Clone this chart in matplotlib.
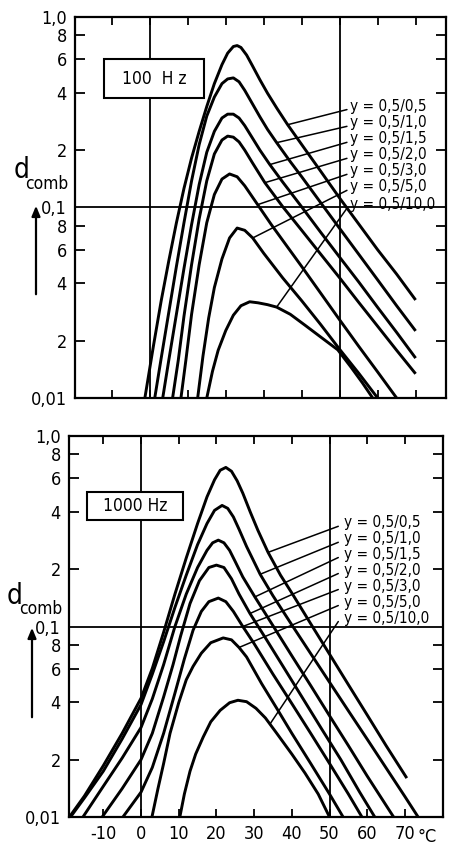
import numpy as np
import matplotlib
matplotlib.use("Agg")
import matplotlib.pyplot as plt
from matplotlib.patches import Rectangle, FancyArrowPatch

plt.rcParams['font.family'] = ['DejaVu Sans']
plt.rcParams['font.stretch'] = 'condensed'
plt.rcParams['axes.unicode_minus'] = False

labels = ["y = 0,5/0,5", "y = 0,5/1,0", "y = 0,5/1,5", "y = 0,5/2,0",
          "y = 0,5/3,0", "y = 0,5/5,0", "y = 0,5/10,0"]
x_ticks = [-10, 0, 10, 20, 30, 40, 50, 60, 70]
y_major = [0.01, 0.1, 1.0]
y_major_labels = ["0,01", "0,1", "1,0"]
y_minor = [0.02, 0.04, 0.06, 0.08, 0.2, 0.4, 0.6, 0.8]
y_minor_labels = ["2", "4", "6", "8", "2", "4", "6", "8"]

# ---- 100 Hz panel (temperature in degC, d_comb) ----
t100_1 = [-1.3, 1, 3, 5, 7, 9, 11, 13, 15, 17, 19, 20.5, 22, 23, 24, 25.5, 27, 29, 31, 33.5, 36.3, 40, 45, 50, 55, 60, 65, 70]
d100_1 = [.01, .019, .0324, .0525, .083, .126, .182, .251, .339, .447, .562, .646, .70, .708, .692, .631, .556, .468, .398, .331, .272, .214, .155, .112, .082, .060, .0447, .0327]
t100_2 = [1.3, 3, 5, 7, 9, 11, 13, 15, 17, 19, 20.5, 22, 23.5, 25, 27, 29, 31, 33.4, 37, 40, 45, 50, 55, 60, 65, 70]
d100_2 = [.01, .0162, .0282, .049, .0832, .138, .214, .302, .38, .447, .473, .479, .457, .412, .351, .299, .257, .219, .174, .145, .106, .0776, .0569, .0417, .0305, .0225]
t100_3 = [3.4, 5, 7, 9, 11, 13, 15, 17, 19, 20.5, 22, 23.5, 25, 27, 29, 31.6, 35, 40, 45, 50, 55, 60, 65, 70]
d100_3 = [.01, .0158, .0275, .0479, .0813, .132, .195, .251, .295, .309, .309, .295, .269, .232, .20, .168, .136, .1007, .0741, .0548, .0407, .0299, .0221, .0162]
t100_4 = [6, 7.5, 9, 11, 13, 15, 17, 19, 20.5, 22, 23.5, 25, 27, 30.3, 35, 40, 45, 50, 55, 60, 65, 70]
d100_4 = [.01, .0158, .0269, .0501, .0871, .138, .191, .226, .237, .234, .221, .20, .172, .135, .101, .0759, .0569, .0427, .0318, .0238, .0178, .0134]
t100_5 = [8.2, 9.5, 11, 13, 15, 17, 19, 21, 23, 25, 28.4, 32, 36, 40, 45, 50, 55, 60, 65]
d100_5 = [.01, .0158, .0275, .0501, .0832, .117, .141, .150, .145, .130, .1035, .0813, .0631, .049, .0355, .0257, .0187, .0137, .01]
t100_6 = [12.6, 14, 15.5, 17, 19, 21, 23, 25, 27.1, 30, 35, 40, 45, 50, 55, 60]
d100_6 = [.01, .0166, .0263, .038, .0537, .0692, .078, .0759, .0692, .0575, .0427, .0324, .0243, .018, .0135, .01]
t100_7 = [15, 16.5, 18, 20, 22, 24, 26.3, 28.5, 31, 33.4, 37, 41, 45, 49.5, 53, 56, 58.7]
d100_7 = [.01, .0138, .0178, .0226, .0272, .0305, .032, .0316, .0309, .030, .0275, .024, .0209, .0179, .0145, .012, .01]

# ---- 1000 Hz panel ----
t1000_1 = [-19, -15, -10, -5, 0, 3, 6, 9, 12, 15, 17.5, 19.5, 21, 22.5, 24, 25.5, 27, 29, 31, 33.7, 37, 40, 45, 50, 55, 60, 65, 70.5]
d1000_1 = [.01, .0129, .0186, .0275, .042, .0603, .0933, .148, .229, .347, .479, .589, .661, .684, .653, .582, .501, .398, .32, .245, .186, .15, .1035, .0716, .0495, .0343, .0237, .016]
t1000_2 = [-18.7, -15, -10, -5, 0, 3, 6, 9, 12, 15, 17.5, 19.5, 21.5, 23, 24.5, 26, 28, 31.6, 35, 40, 45, 50, 55, 60, 65, 70, 73.5]
d1000_2 = [.01, .0126, .0174, .0257, .0389, .0562, .0832, .126, .186, .269, .347, .407, .432, .417, .376, .324, .263, .188, .145, .102, .0721, .051, .0361, .0256, .0181, .0128, .01]
t1000_3 = [-15.4, -10, -5, 0, 3, 6, 9, 12, 15, 17.5, 19, 20.5, 22, 23.5, 25, 27, 30.2, 35, 40, 45, 50, 55, 60, 67]
d1000_3 = [.01, .0145, .0204, .0295, .0417, .0631, .1, .148, .204, .251, .275, .284, .275, .251, .219, .182, .143, .101, .0702, .049, .034, .0237, .0164, .01]
t1000_4 = [-10.3, -5, 0, 3, 6, 8.5, 10.5, 13, 15.5, 18, 20, 22, 24, 26, 28.9, 33, 38, 43, 48, 53, 58, 62]
d1000_4 = [.01, .0141, .02, .0275, .0427, .0631, .0891, .132, .174, .204, .21, .204, .178, .148, .117, .0871, .0603, .0417, .0288, .02, .0135, .01]
t1000_5 = [-4.8, 0, 3, 6, 9, 11.5, 13.8, 16, 18, 20.5, 22.5, 24.5, 27, 30, 35, 40, 45, 50, 55, 58.6]
d1000_5 = [.01, .0135, .0182, .0275, .0447, .0676, .0955, .12, .135, .141, .135, .12, .1, .0813, .0562, .0394, .0275, .0191, .0132, .01]
t1000_6 = [2.9, 4.5, 6, 7.7, 10, 12, 13.8, 16, 18.5, 21.8, 24, 26, 28, 32, 36, 40, 45, 50, 53.6]
d1000_6 = [.01, .0141, .0191, .0275, .0398, .0525, .0617, .0724, .0822, .0871, .0851, .0776, .0692, .0501, .0372, .0275, .0191, .0132, .01]
t1000_7 = [10.3, 11.5, 13, 14.5, 16.5, 18.5, 21, 23.5, 25.7, 28, 30.5, 33, 36, 40, 43.5, 47, 50]
d1000_7 = [.01, .0132, .0174, .0214, .0263, .0316, .0363, .0398, .041, .0403, .0372, .0331, .0275, .0214, .017, .0132, .01]

top_t = [t100_1, t100_2, t100_3, t100_4, t100_5, t100_6, t100_7]
top_d = [d100_1, d100_2, d100_3, d100_4, d100_5, d100_6, d100_7]
bot_t = [t1000_1, t1000_2, t1000_3, t1000_4, t1000_5, t1000_6, t1000_7]
bot_d = [d1000_1, d1000_2, d1000_3, d1000_4, d1000_5, d1000_6, d1000_7]

# where the label leader lines touch each curve (temperature)
top_leader_t = [36.3, 33.4, 31.6, 30.3, 28.4, 27.1, 33.4]
bot_leader_t = [33.7, 31.6, 30.2, 28.9, 27.0, 26.0, 34.2]

W, H = 449, 847
fig = plt.figure(figsize=(W / 100, H / 100), dpi=100)


def px_axes(l, t, r, b):
    return fig.add_axes([l / W, 1 - b / H, (r - l) / W, (b - t) / H])


def setup(ax, xlim, show_xlabels):
    ax.set_yscale('log')
    ax.set_ylim(0.01, 1.0)
    ax.set_xlim(*xlim)
    ax.set_yticks(y_major, labels=y_major_labels)
    ax.set_yticks(y_minor, labels=y_minor_labels, minor=True)
    ax.set_xticks(x_ticks)
    ax.xaxis.set_minor_locator(matplotlib.ticker.NullLocator())
    ax.tick_params(axis='y', which='major', length=0, labelsize=13, pad=6)
    ax.tick_params(axis='y', which='minor', direction='in', length=7, width=1.3,
                   left=True, right=True, labelsize=13, pad=6)
    ax.tick_params(axis='x', which='major', direction='in', length=6, width=1.3,
                   top=True, bottom=True, labelsize=13, pad=6,
                   labelbottom=show_xlabels)
    for s in ax.spines.values():
        s.set_linewidth(1.6)
    ax.axhline(0.1, color='k', lw=1.3, zorder=1)
    ax.axvline(0, color='k', lw=1.3, zorder=1)
    ax.axvline(50, color='k', lw=1.3, zorder=1)


def draw(ax, ts, ds, leader_t, lab_x, lab_ys, lead_x):
    for t, d in zip(ts, ds):
        ax.plot(t, d, color='k', lw=2.1, solid_capstyle='butt',
                solid_joinstyle='round', zorder=3)
    for i, (t, d) in enumerate(zip(ts, ds)):
        lt = leader_t[i]
        ly = 10 ** np.interp(lt, t, np.log10(d))
        ax.annotate('', xy=(lt, ly), xycoords='data',
                    xytext=(lead_x, lab_ys[i] - 0.009), textcoords='axes fraction',
                    arrowprops=dict(arrowstyle='-', color='k', lw=1.1,
                                    shrinkA=0, shrinkB=0), zorder=2)
        ax.text(lab_x, lab_ys[i], labels[i], transform=ax.transAxes, fontsize=11,
                va='center', ha='left', zorder=4)


# top panel
ax1 = px_axes(75, 17, 446, 398)
setup(ax1, (-19.7, 78.0), False)
draw(ax1, top_t, top_d, top_leader_t, 0.742,
     [0.766, 0.722, 0.680, 0.638, 0.596, 0.554, 0.507], 0.733)
ax1.add_patch(Rectangle((0.078, 0.787), 0.271, 0.103, transform=ax1.transAxes,
                        facecolor='white', edgecolor='k', lw=1.5, zorder=5))
ax1.text(0.2135, 0.8385, "100  H z", transform=ax1.transAxes, fontsize=12.5,
         ha='center', va='center', zorder=6)

# bottom panel
ax2 = px_axes(69, 436, 443, 817)
setup(ax2, (-19.1, 80.1), True)
draw(ax2, bot_t, bot_d, bot_leader_t, 0.736,
     [0.772, 0.730, 0.690, 0.648, 0.606, 0.564, 0.522], 0.720)
ax2.add_patch(Rectangle((0.048, 0.7795), 0.257, 0.0735, transform=ax2.transAxes,
                        facecolor='white', edgecolor='k', lw=1.5, zorder=5))
ax2.text(0.1765, 0.816, "1000 Hz", transform=ax2.transAxes, fontsize=12.5,
         ha='center', va='center', zorder=6)
ax2.text(76.0, -0.028, "°C", transform=ax2.get_xaxis_transform(), fontsize=13,
         ha='center', va='top')

# y-axis labels with arrows
for (dx, dy, cx, cy, ax_x, y0, y1) in [(22, 170, 47, 184, 36, 297, 203),
                                       (15, 596, 41, 609, 32, 720, 625)]:
    fig.text(dx / W, 1 - dy / H, "d", fontsize=20, ha='center', va='center')
    fig.text(cx / W, 1 - cy / H, "comb", fontsize=12.5, ha='center', va='center')
    fig.add_artist(FancyArrowPatch(
        (ax_x / W, 1 - y0 / H), (ax_x / W, 1 - y1 / H), transform=fig.transFigure,
        arrowstyle='-|>,head_length=6,head_width=2.5', color='k', lw=1.6))

fig.savefig("out.png", dpi=100)
